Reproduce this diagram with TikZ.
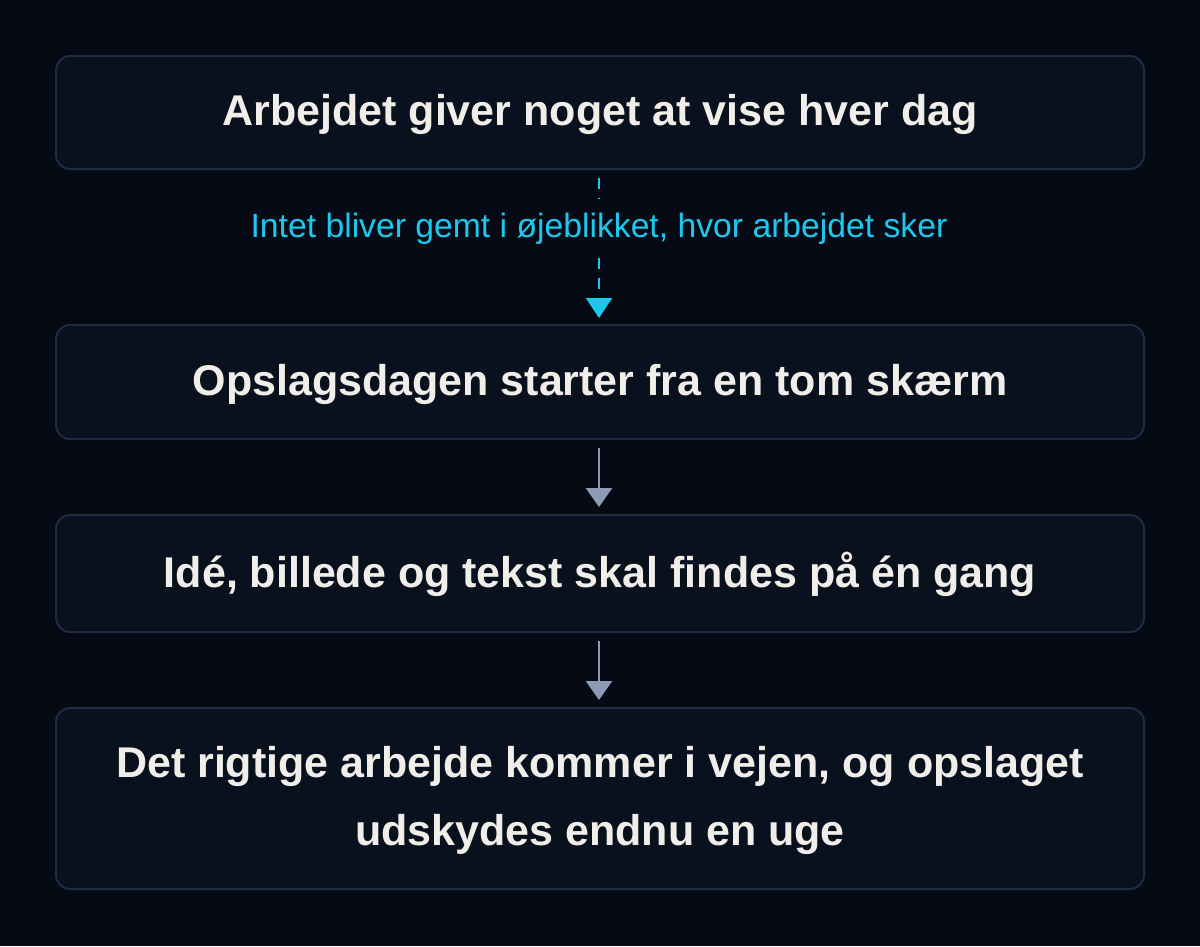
\documentclass[tikz,border=0pt]{standalone}
\usepackage{fontspec}
\setmainfont{Liberation Sans}
\usetikzlibrary{arrows.meta}
\definecolor{pagebg}{HTML}{050A15}
\definecolor{boxfill}{HTML}{0A111E}
\definecolor{boxline}{HTML}{1F2B43}
\definecolor{txt}{HTML}{F1EEE9}
\definecolor{cyanc}{HTML}{1DC8EE}
\definecolor{grayarrow}{HTML}{8D9BB4}
\tikzset{
  stepbox/.style={draw=boxline, line width=2pt, fill=boxfill, rounded corners=14pt, minimum width=1088pt, inner sep=0pt},
  boxtext/.style={text=txt, font=\fontsize{43}{52}\selectfont\bfseries, anchor=base, inner sep=0pt},
  flowarrow/.style={draw=grayarrow, line width=2.6pt, -{Triangle[width=26pt,length=19pt]}},
  dasharrow/.style={draw=cyanc, line width=2.6pt, dash pattern=on 11pt off 9pt, -{Triangle[width=26pt,length=20pt]}},
  cyanlabel/.style={text=cyanc, font=\fontsize{33.7}{40}\selectfont, anchor=base, inner xsep=8pt, inner ysep=14pt, fill=pagebg}
}
\begin{document}
\begin{tikzpicture}[x=1pt,y=-1pt]
\fill[pagebg] (0,0) rectangle (1200,946);
\useasboundingbox (0,0) rectangle (1200,946);
\node[stepbox, minimum height=113pt] (b1) at (600,112.5) {};
\node[stepbox, minimum height=114pt] (b2) at (600,382) {};
\node[stepbox, minimum height=117pt] (b3) at (600,573.5) {};
\node[stepbox, minimum height=181pt] (b4) at (600,798.5) {};
\node[boxtext] (t1) at (600,125) {Arbejdet giver noget at vise hver dag};
\node[boxtext] (t2) at (600,395) {Opslagsdagen starter fra en tom skærm};
\node[boxtext] (t3) at (600,587) {Idé, billede og tekst skal findes på én gang};
\node[boxtext] (t4a) at (600,777) {Det rigtige arbejde kommer i vejen, og opslaget};
\node[boxtext] (t4b) at (600,845) {udskydes endnu en uge};
\coordinate (a1s) at (599,178);
\coordinate (a1e) at (599,318);
\draw[dasharrow] (a1s) -- (a1e);
\node[cyanlabel] (lab) at (599,237) {Intet bliver gemt i øjeblikket, hvor arbejdet sker};
\coordinate (a2s) at (599,448);
\coordinate (a2e) at (599,507);
\draw[flowarrow] (a2s) -- (a2e);
\coordinate (a3s) at (599,641);
\coordinate (a3e) at (599,700);
\draw[flowarrow] (a3s) -- (a3e);
\end{tikzpicture}
\end{document}
